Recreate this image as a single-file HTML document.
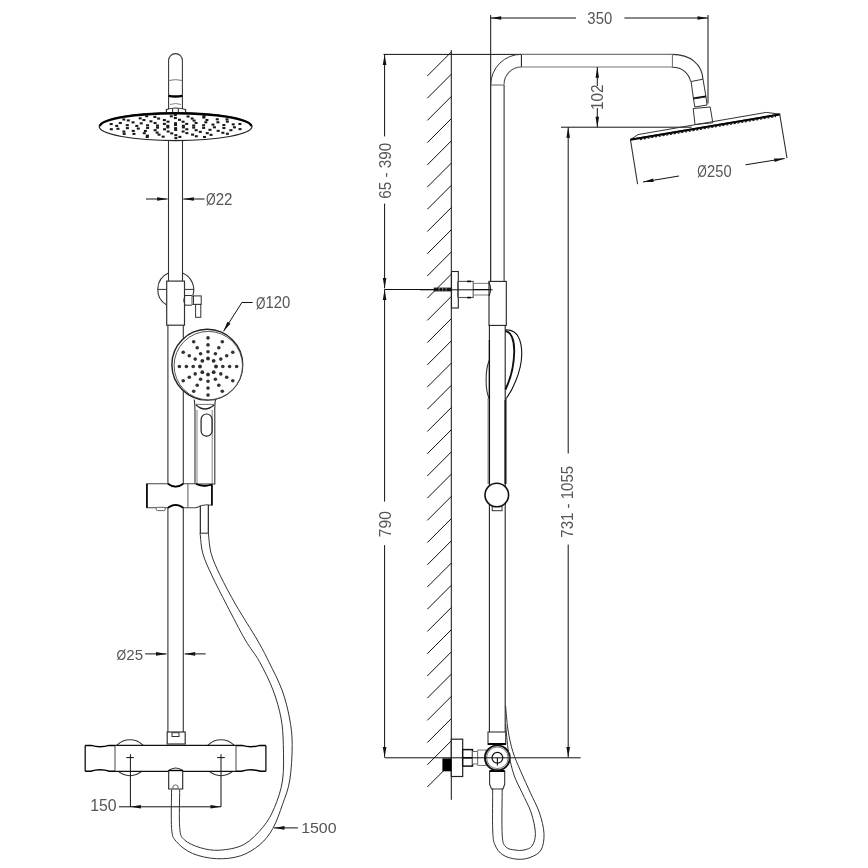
<!DOCTYPE html>
<html><head><meta charset="utf-8"><style>
html,body{margin:0;padding:0;background:#fff;width:868px;height:868px;overflow:hidden}
svg{display:block;filter:grayscale(1)}
text{font-family:"Liberation Sans",sans-serif}
</style></head><body>
<svg width="868" height="868" viewBox="0 0 868 868">
<rect width="868" height="868" fill="#fff"/>
<path d="M168.6,109 L168.6,60.5 A6.9,6.9 0 0 1 182.4,60.5 L182.4,109" stroke="#333" stroke-width="1.05" fill="none"/>
<path d="M168.6,80.5 Q175.5,78.8 182.4,80.5" stroke="#777" stroke-width="1" fill="none"/>
<path d="M168.6,95.8 Q175.5,97.2 182.4,95.8" stroke="#000" stroke-width="2.3" fill="none"/>
<path d="M170,104.5 Q175.5,102.5 181,104.5" stroke="#888" stroke-width="1" fill="none"/>
<path d="M166.4,113 L166.4,109.5 Q175.5,106.5 185.6,109.5 L185.6,113" stroke="#222" stroke-width="1.1" fill="none"/>
<line x1="172.60" y1="108.50" x2="172.60" y2="113.00" stroke="#222" stroke-width="1"/>
<line x1="178.30" y1="108.50" x2="178.30" y2="113.00" stroke="#222" stroke-width="1"/>
<ellipse cx="175.6" cy="126.6" rx="76.4" ry="14" fill="#fff" stroke="#222" stroke-width="1.2"/>
<path d="M99.8,126.2 A75.9,13.6 0 0 1 251.4,126.2" stroke="#000" stroke-width="2.2" fill="none"/>
<rect x="181.91" y="126.33" width="3" height="2.1" fill="#1a1a1a"/>
<rect x="174.13" y="127.12" width="3" height="2.1" fill="#1a1a1a"/>
<rect x="166.32" y="126.34" width="3" height="2.1" fill="#1a1a1a"/>
<rect x="166.29" y="124.77" width="3" height="2.1" fill="#1a1a1a"/>
<rect x="174.07" y="123.98" width="3" height="2.1" fill="#1a1a1a"/>
<rect x="181.88" y="124.76" width="3" height="2.1" fill="#1a1a1a"/>
<rect x="192.19" y="126.56" width="3" height="2.1" fill="#1a1a1a"/>
<rect x="185.33" y="128.23" width="3" height="2.1" fill="#1a1a1a"/>
<rect x="174.18" y="128.87" width="3" height="2.1" fill="#1a1a1a"/>
<rect x="163.00" y="128.25" width="3" height="2.1" fill="#1a1a1a"/>
<rect x="156.05" y="126.59" width="3" height="2.1" fill="#1a1a1a"/>
<rect x="156.01" y="124.54" width="3" height="2.1" fill="#1a1a1a"/>
<rect x="162.87" y="122.87" width="3" height="2.1" fill="#1a1a1a"/>
<rect x="174.02" y="122.23" width="3" height="2.1" fill="#1a1a1a"/>
<rect x="185.20" y="122.85" width="3" height="2.1" fill="#1a1a1a"/>
<rect x="192.15" y="124.51" width="3" height="2.1" fill="#1a1a1a"/>
<rect x="202.13" y="126.85" width="3" height="2.1" fill="#1a1a1a"/>
<rect x="194.64" y="129.13" width="3" height="2.1" fill="#1a1a1a"/>
<rect x="181.66" y="130.45" width="3" height="2.1" fill="#1a1a1a"/>
<rect x="166.64" y="130.45" width="3" height="2.1" fill="#1a1a1a"/>
<rect x="153.63" y="129.15" width="3" height="2.1" fill="#1a1a1a"/>
<rect x="146.10" y="126.87" width="3" height="2.1" fill="#1a1a1a"/>
<rect x="146.07" y="124.25" width="3" height="2.1" fill="#1a1a1a"/>
<rect x="153.56" y="121.97" width="3" height="2.1" fill="#1a1a1a"/>
<rect x="166.54" y="120.65" width="3" height="2.1" fill="#1a1a1a"/>
<rect x="181.56" y="120.65" width="3" height="2.1" fill="#1a1a1a"/>
<rect x="194.57" y="121.95" width="3" height="2.1" fill="#1a1a1a"/>
<rect x="202.10" y="124.23" width="3" height="2.1" fill="#1a1a1a"/>
<rect x="212.91" y="126.23" width="3" height="2.1" fill="#1a1a1a"/>
<rect x="208.46" y="128.78" width="3" height="2.1" fill="#1a1a1a"/>
<rect x="198.79" y="130.83" width="3" height="2.1" fill="#1a1a1a"/>
<rect x="185.35" y="132.08" width="3" height="2.1" fill="#1a1a1a"/>
<rect x="170.21" y="132.34" width="3" height="2.1" fill="#1a1a1a"/>
<rect x="155.65" y="131.56" width="3" height="2.1" fill="#1a1a1a"/>
<rect x="143.91" y="129.87" width="3" height="2.1" fill="#1a1a1a"/>
<rect x="136.76" y="127.52" width="3" height="2.1" fill="#1a1a1a"/>
<rect x="135.29" y="124.87" width="3" height="2.1" fill="#1a1a1a"/>
<rect x="139.74" y="122.32" width="3" height="2.1" fill="#1a1a1a"/>
<rect x="149.41" y="120.27" width="3" height="2.1" fill="#1a1a1a"/>
<rect x="162.85" y="119.02" width="3" height="2.1" fill="#1a1a1a"/>
<rect x="177.99" y="118.76" width="3" height="2.1" fill="#1a1a1a"/>
<rect x="192.55" y="119.54" width="3" height="2.1" fill="#1a1a1a"/>
<rect x="204.29" y="121.23" width="3" height="2.1" fill="#1a1a1a"/>
<rect x="211.44" y="123.58" width="3" height="2.1" fill="#1a1a1a"/>
<rect x="222.39" y="127.00" width="3" height="2.1" fill="#1a1a1a"/>
<rect x="216.65" y="129.80" width="3" height="2.1" fill="#1a1a1a"/>
<rect x="205.77" y="132.09" width="3" height="2.1" fill="#1a1a1a"/>
<rect x="191.07" y="133.59" width="3" height="2.1" fill="#1a1a1a"/>
<rect x="174.32" y="134.12" width="3" height="2.1" fill="#1a1a1a"/>
<rect x="157.55" y="133.62" width="3" height="2.1" fill="#1a1a1a"/>
<rect x="142.77" y="132.14" width="3" height="2.1" fill="#1a1a1a"/>
<rect x="131.78" y="129.87" width="3" height="2.1" fill="#1a1a1a"/>
<rect x="125.88" y="127.08" width="3" height="2.1" fill="#1a1a1a"/>
<rect x="125.81" y="124.10" width="3" height="2.1" fill="#1a1a1a"/>
<rect x="131.55" y="121.30" width="3" height="2.1" fill="#1a1a1a"/>
<rect x="142.43" y="119.01" width="3" height="2.1" fill="#1a1a1a"/>
<rect x="157.13" y="117.51" width="3" height="2.1" fill="#1a1a1a"/>
<rect x="173.88" y="116.98" width="3" height="2.1" fill="#1a1a1a"/>
<rect x="190.65" y="117.48" width="3" height="2.1" fill="#1a1a1a"/>
<rect x="205.43" y="118.96" width="3" height="2.1" fill="#1a1a1a"/>
<rect x="216.42" y="121.23" width="3" height="2.1" fill="#1a1a1a"/>
<rect x="222.32" y="124.02" width="3" height="2.1" fill="#1a1a1a"/>
<rect x="232.96" y="126.27" width="3" height="2.1" fill="#1a1a1a"/>
<rect x="229.41" y="129.14" width="3" height="2.1" fill="#1a1a1a"/>
<rect x="221.38" y="131.73" width="3" height="2.1" fill="#1a1a1a"/>
<rect x="209.52" y="133.81" width="3" height="2.1" fill="#1a1a1a"/>
<rect x="194.80" y="135.22" width="3" height="2.1" fill="#1a1a1a"/>
<rect x="178.39" y="135.85" width="3" height="2.1" fill="#1a1a1a"/>
<rect x="161.64" y="135.64" width="3" height="2.1" fill="#1a1a1a"/>
<rect x="145.90" y="134.62" width="3" height="2.1" fill="#1a1a1a"/>
<rect x="132.44" y="132.86" width="3" height="2.1" fill="#1a1a1a"/>
<rect x="122.36" y="130.51" width="3" height="2.1" fill="#1a1a1a"/>
<rect x="116.47" y="127.76" width="3" height="2.1" fill="#1a1a1a"/>
<rect x="115.24" y="124.83" width="3" height="2.1" fill="#1a1a1a"/>
<rect x="118.79" y="121.96" width="3" height="2.1" fill="#1a1a1a"/>
<rect x="126.82" y="119.37" width="3" height="2.1" fill="#1a1a1a"/>
<rect x="138.68" y="117.29" width="3" height="2.1" fill="#1a1a1a"/>
<rect x="153.40" y="115.88" width="3" height="2.1" fill="#1a1a1a"/>
<rect x="169.81" y="115.25" width="3" height="2.1" fill="#1a1a1a"/>
<rect x="186.56" y="115.46" width="3" height="2.1" fill="#1a1a1a"/>
<rect x="202.30" y="116.48" width="3" height="2.1" fill="#1a1a1a"/>
<rect x="215.76" y="118.24" width="3" height="2.1" fill="#1a1a1a"/>
<rect x="225.84" y="120.59" width="3" height="2.1" fill="#1a1a1a"/>
<rect x="231.73" y="123.34" width="3" height="2.1" fill="#1a1a1a"/>
<rect x="238.51" y="128.07" width="3" height="2.1" fill="#1a1a1a"/>
<rect x="225.88" y="132.71" width="3" height="2.1" fill="#1a1a1a"/>
<rect x="203.00" y="135.93" width="3" height="2.1" fill="#1a1a1a"/>
<rect x="174.39" y="137.10" width="3" height="2.1" fill="#1a1a1a"/>
<rect x="145.73" y="135.98" width="3" height="2.1" fill="#1a1a1a"/>
<rect x="122.68" y="132.79" width="3" height="2.1" fill="#1a1a1a"/>
<rect x="109.82" y="128.17" width="3" height="2.1" fill="#1a1a1a"/>
<rect x="109.69" y="123.03" width="3" height="2.1" fill="#1a1a1a"/>
<rect x="122.32" y="118.39" width="3" height="2.1" fill="#1a1a1a"/>
<rect x="145.20" y="115.17" width="3" height="2.1" fill="#1a1a1a"/>
<rect x="173.81" y="114.00" width="3" height="2.1" fill="#1a1a1a"/>
<rect x="202.47" y="115.12" width="3" height="2.1" fill="#1a1a1a"/>
<rect x="225.52" y="118.31" width="3" height="2.1" fill="#1a1a1a"/>
<rect x="238.38" y="122.93" width="3" height="2.1" fill="#1a1a1a"/>
<line x1="168.50" y1="141.00" x2="168.50" y2="281.00" stroke="#333" stroke-width="1.1"/>
<line x1="182.50" y1="141.00" x2="182.50" y2="281.00" stroke="#333" stroke-width="1.1"/>
<line x1="146.00" y1="199.00" x2="167.60" y2="199.00" stroke="#111" stroke-width="1"/>
<path d="M167.60,199.00 L157.10,200.80 L157.10,197.20 Z" fill="#111"/>
<line x1="183.30" y1="199.00" x2="204.50" y2="199.00" stroke="#111" stroke-width="1"/>
<path d="M183.30,199.00 L193.80,197.20 L193.80,200.80 Z" fill="#111"/>
<text transform="matrix(0.1242,0.0000,0.0000,0.1640,205.9531,204.5580)" font-size="100" fill="#555" opacity="0.995">Ø</text>
<text transform="matrix(0.1508,0.0000,0.0000,0.1686,215.7192,204.6500)" font-size="100" fill="#555" opacity="0.995">22</text>
<path d="M168.5,273 A18,18 0 0 0 166.7,305" stroke="#333" stroke-width="1.1" fill="none"/>
<path d="M182.5,273 A18,18 0 0 1 192.8,295.5" stroke="#333" stroke-width="1.1" fill="none"/>
<line x1="157.70" y1="289.40" x2="166.70" y2="289.40" stroke="#333" stroke-width="1"/>
<line x1="184.50" y1="289.40" x2="193.80" y2="289.40" stroke="#333" stroke-width="1"/>
<rect x="166.70" y="281.10" width="17.80" height="44.10" stroke="#333" stroke-width="1.2" fill="#fff"/>
<path d="M191.9,295.5 L185,295.5 Q182.3,300.3 185,305.2 L191.9,305.2" stroke="#333" stroke-width="1" fill="none"/>
<rect x="192.00" y="296.00" width="1.50" height="8.50" stroke="#333" stroke-width="0.8" fill="#fff"/>
<rect x="193.50" y="295.90" width="7.70" height="8.50" stroke="#333" stroke-width="1" fill="#fff"/>
<rect x="195.60" y="304.40" width="5.20" height="12.90" stroke="#333" stroke-width="1" fill="#fff"/>
<line x1="167.90" y1="325.00" x2="167.90" y2="484.00" stroke="#333" stroke-width="1.1"/>
<line x1="183.30" y1="325.00" x2="183.30" y2="484.00" stroke="#333" stroke-width="1.1"/>
<line x1="167.90" y1="508.00" x2="167.90" y2="732.00" stroke="#333" stroke-width="1.1"/>
<line x1="183.30" y1="508.00" x2="183.30" y2="732.00" stroke="#333" stroke-width="1.1"/>
<circle cx="207.3" cy="364.7" r="35.4" fill="#fff" stroke="#222" stroke-width="1.4"/>
<circle cx="208.3" cy="365.6" r="34.2" fill="#fff" stroke="#444" stroke-width="0.9"/>
<path d="M194.2,399.6 C195,404 195,408 195,414 L195,484 L214.8,484 L214.8,414 C214.8,408 214.6,404 215.5,399.6" stroke="#333" stroke-width="1.1" fill="none"/>
<line x1="197.00" y1="410.00" x2="197.00" y2="484.00" stroke="#777" stroke-width="0.9"/>
<line x1="212.20" y1="410.00" x2="212.20" y2="484.00" stroke="#777" stroke-width="0.9"/>
<path d="M195.5,404.4 L214.5,404.4" stroke="#666" stroke-width="0.9" fill="none"/>
<path d="M196,405 Q205,413 214,405" stroke="#222" stroke-width="1.2" fill="none"/>
<rect x="201.1" y="414" width="11" height="22.2" rx="5.5" fill="none" stroke="#222" stroke-width="1.2"/>
<circle cx="216.00" cy="366.50" r="1.90" stroke="none" stroke-width="0" fill="#2a2a2a"/>
<circle cx="213.66" cy="372.16" r="1.90" stroke="none" stroke-width="0" fill="#2a2a2a"/>
<circle cx="208.00" cy="374.50" r="1.90" stroke="none" stroke-width="0" fill="#2a2a2a"/>
<circle cx="202.34" cy="372.16" r="1.90" stroke="none" stroke-width="0" fill="#2a2a2a"/>
<circle cx="200.00" cy="366.50" r="1.90" stroke="none" stroke-width="0" fill="#2a2a2a"/>
<circle cx="202.34" cy="360.84" r="1.90" stroke="none" stroke-width="0" fill="#2a2a2a"/>
<circle cx="208.00" cy="358.50" r="1.90" stroke="none" stroke-width="0" fill="#2a2a2a"/>
<circle cx="213.66" cy="360.84" r="1.90" stroke="none" stroke-width="0" fill="#2a2a2a"/>
<circle cx="222.80" cy="366.50" r="1.80" stroke="none" stroke-width="0" fill="#333"/>
<circle cx="229.60" cy="366.50" r="1.80" stroke="none" stroke-width="0" fill="#333"/>
<circle cx="236.60" cy="366.50" r="1.80" stroke="none" stroke-width="0" fill="#333"/>
<circle cx="220.82" cy="373.90" r="1.80" stroke="none" stroke-width="0" fill="#333"/>
<circle cx="226.71" cy="377.30" r="1.80" stroke="none" stroke-width="0" fill="#333"/>
<circle cx="232.77" cy="380.80" r="1.80" stroke="none" stroke-width="0" fill="#333"/>
<circle cx="215.40" cy="379.32" r="1.80" stroke="none" stroke-width="0" fill="#333"/>
<circle cx="218.80" cy="385.21" r="1.80" stroke="none" stroke-width="0" fill="#333"/>
<circle cx="222.30" cy="391.27" r="1.80" stroke="none" stroke-width="0" fill="#333"/>
<circle cx="208.00" cy="381.30" r="1.80" stroke="none" stroke-width="0" fill="#333"/>
<circle cx="208.00" cy="388.10" r="1.80" stroke="none" stroke-width="0" fill="#333"/>
<circle cx="208.00" cy="395.10" r="1.80" stroke="none" stroke-width="0" fill="#333"/>
<circle cx="200.60" cy="379.32" r="1.80" stroke="none" stroke-width="0" fill="#333"/>
<circle cx="197.20" cy="385.21" r="1.80" stroke="none" stroke-width="0" fill="#333"/>
<circle cx="193.70" cy="391.27" r="1.80" stroke="none" stroke-width="0" fill="#333"/>
<circle cx="195.18" cy="373.90" r="1.80" stroke="none" stroke-width="0" fill="#333"/>
<circle cx="189.29" cy="377.30" r="1.80" stroke="none" stroke-width="0" fill="#333"/>
<circle cx="183.23" cy="380.80" r="1.80" stroke="none" stroke-width="0" fill="#333"/>
<circle cx="193.20" cy="366.50" r="1.80" stroke="none" stroke-width="0" fill="#333"/>
<circle cx="186.40" cy="366.50" r="1.80" stroke="none" stroke-width="0" fill="#333"/>
<circle cx="179.40" cy="366.50" r="1.80" stroke="none" stroke-width="0" fill="#333"/>
<circle cx="195.18" cy="359.10" r="1.80" stroke="none" stroke-width="0" fill="#333"/>
<circle cx="189.29" cy="355.70" r="1.80" stroke="none" stroke-width="0" fill="#333"/>
<circle cx="183.23" cy="352.20" r="1.80" stroke="none" stroke-width="0" fill="#333"/>
<circle cx="200.60" cy="353.68" r="1.80" stroke="none" stroke-width="0" fill="#333"/>
<circle cx="197.20" cy="347.79" r="1.80" stroke="none" stroke-width="0" fill="#333"/>
<circle cx="193.70" cy="341.73" r="1.80" stroke="none" stroke-width="0" fill="#333"/>
<circle cx="208.00" cy="351.70" r="1.80" stroke="none" stroke-width="0" fill="#333"/>
<circle cx="208.00" cy="344.90" r="1.80" stroke="none" stroke-width="0" fill="#333"/>
<circle cx="208.00" cy="337.90" r="1.80" stroke="none" stroke-width="0" fill="#333"/>
<circle cx="215.40" cy="353.68" r="1.80" stroke="none" stroke-width="0" fill="#333"/>
<circle cx="218.80" cy="347.79" r="1.80" stroke="none" stroke-width="0" fill="#333"/>
<circle cx="222.30" cy="341.73" r="1.80" stroke="none" stroke-width="0" fill="#333"/>
<circle cx="220.82" cy="359.10" r="1.80" stroke="none" stroke-width="0" fill="#333"/>
<circle cx="226.71" cy="355.70" r="1.80" stroke="none" stroke-width="0" fill="#333"/>
<circle cx="232.77" cy="352.20" r="1.80" stroke="none" stroke-width="0" fill="#333"/>
<path d="M223.6,331.2 L241.9,302.5 L252.7,302.5" stroke="#111" stroke-width="1" fill="none"/>
<path d="M223.30,331.60 L227.44,321.78 L230.47,323.72 Z" fill="#111"/>
<text transform="matrix(0.1213,0.0000,0.0000,0.1640,255.9646,308.5580)" font-size="100" fill="#555" opacity="0.995">Ø</text>
<text transform="matrix(0.1488,0.0000,0.0000,0.1662,265.3932,308.4838)" font-size="100" fill="#555" opacity="0.995">120</text>
<path d="M146.9,483.8 L167.9,483.8 Q175.6,489.6 183.3,483.8 L196,483.8 Q204,487.5 211.9,484.5 L211.9,505.3 Q204,503.5 196,507.8 L183.3,507.8 Q175.6,502 167.9,507.8 L146.9,507.8 Z" stroke="#444" stroke-width="1.1" fill="#fff"/>
<path d="M167.9,483.8 Q175.6,489.6 183.3,483.8 M167.9,507.8 Q175.6,502 183.3,507.8 M196,484 Q204,487.5 211.9,484.5" stroke="#000" stroke-width="1.7" fill="none"/>
<path d="M146.9,483.8 L146.9,507.8 M211.9,484.5 L211.9,505.3" stroke="#000" stroke-width="1.6" fill="none"/>
<line x1="187.90" y1="484.00" x2="187.90" y2="507.80" stroke="#666" stroke-width="1.1"/>
<rect x="156.1" y="507.3" width="9.2" height="3.3" rx="1.5" fill="#fff" stroke="#555" stroke-width="0.9"/>
<line x1="145.20" y1="653.90" x2="166.50" y2="653.90" stroke="#111" stroke-width="1"/>
<path d="M166.50,653.90 L156.00,655.70 L156.00,652.10 Z" fill="#111"/>
<line x1="184.70" y1="653.90" x2="205.60" y2="653.90" stroke="#111" stroke-width="1"/>
<path d="M184.70,653.90 L195.20,652.10 L195.20,655.70 Z" fill="#111"/>
<text transform="matrix(0.1247,0.0000,0.0000,0.1533,116.5511,660.0900)" font-size="100" fill="#555" opacity="0.995">Ø</text>
<text transform="matrix(0.1514,0.0000,0.0000,0.1549,126.3552,659.9951)" font-size="100" fill="#555" opacity="0.995">25</text>
<rect x="167.20" y="732.00" width="18.00" height="12.00" stroke="#333" stroke-width="1.2" fill="#fff"/>
<rect x="172.00" y="732.70" width="7.00" height="3.80" stroke="#333" stroke-width="1" fill="#fff"/>
<circle cx="130.00" cy="757.70" r="18.00" stroke="#333" stroke-width="1.1" fill="#fff"/>
<circle cx="221.00" cy="757.70" r="18.00" stroke="#333" stroke-width="1.1" fill="#fff"/>
<rect x="85.20" y="745.40" width="180.70" height="25.90" stroke="#fff" stroke-width="0" fill="#fff"/>
<path d="M115,745.4 L236,745.4 M115,771.3 L236,771.3" stroke="#111" stroke-width="1.2" fill="none"/>
<path d="M85.2,745.4 L85.2,771.3 M265.9,745.4 L265.9,771.3" stroke="#111" stroke-width="1.3" fill="none"/>
<line x1="115.00" y1="745.40" x2="115.00" y2="771.30" stroke="#666" stroke-width="1.2"/>
<line x1="236.00" y1="745.40" x2="236.00" y2="771.30" stroke="#666" stroke-width="1.2"/>
<path d="M85.2,745.4 L91.16,745.4 Q100.10,748.2 109.04,745.4 L115,745.4" stroke="#000" stroke-width="1.5" fill="none"/>
<path d="M85.2,771.3 L90.56,771.3 Q100.10,768.3 109.64,771.3 L115,771.3" stroke="#000" stroke-width="1.5" fill="none"/>
<path d="M236,745.4 L241.98,745.4 Q250.95,748.2 259.92,745.4 L265.9,745.4" stroke="#000" stroke-width="1.5" fill="none"/>
<path d="M236,771.3 L241.38,771.3 Q250.95,768.3 260.52,771.3 L265.9,771.3" stroke="#000" stroke-width="1.5" fill="none"/>
<line x1="126.30" y1="757.60" x2="133.90" y2="757.60" stroke="#111" stroke-width="1"/>
<line x1="217.20" y1="757.60" x2="224.80" y2="757.60" stroke="#111" stroke-width="1"/>
<line x1="130.40" y1="754.20" x2="130.40" y2="807.00" stroke="#111" stroke-width="1"/>
<line x1="221.00" y1="754.20" x2="221.00" y2="807.00" stroke="#111" stroke-width="1"/>
<path d="M168.7,789 L168.7,770.5 Q175.7,765.5 182.7,770.5 L182.7,789 Z" stroke="#222" stroke-width="1.1" fill="#fff"/>
<line x1="168.70" y1="770.50" x2="182.70" y2="770.50" stroke="#000" stroke-width="1.4"/>
<path d="M173,789 L173,786 Q175.5,783.5 178,786 L178,789" stroke="#555" stroke-width="0.9" fill="none"/>
<line x1="119.00" y1="806.80" x2="221.00" y2="806.80" stroke="#111" stroke-width="1"/>
<path d="M130.40,806.80 L140.90,805.00 L140.90,808.60 Z" fill="#111"/>
<path d="M221.00,806.80 L210.50,808.60 L210.50,805.00 Z" fill="#111"/>
<text transform="matrix(0.1581,0.0000,0.0000,0.1620,90.1855,811.2880)" font-size="100" fill="#555" opacity="0.995">150</text>
<path d="M200.10,533.40 C200.57,536.78 200.90,546.62 202.90,553.70 C204.90,560.78 208.10,567.30 212.10,575.90 C216.10,584.50 221.37,594.62 226.90,605.30 C232.43,615.98 239.88,630.63 245.30,640.00 C250.72,649.37 254.78,653.17 259.40,661.50 C264.02,669.83 269.40,680.58 273.00,690.00 C276.60,699.42 279.28,708.93 281.00,718.00 C282.72,727.07 283.03,734.07 283.30,744.40 C283.57,754.73 284.07,769.50 282.60,780.00 C281.13,790.50 277.73,799.60 274.50,807.40 C271.27,815.20 268.30,820.62 263.20,826.80 C258.10,832.98 251.15,840.60 243.90,844.50 C236.65,848.40 226.97,849.67 219.70,850.20 C212.43,850.73 206.22,849.45 200.30,847.70 C194.38,845.95 187.63,843.05 184.20,839.70 C180.77,836.35 180.45,835.97 179.70,827.60 C178.95,819.23 179.70,795.85 179.70,789.50" stroke="#333" stroke-width="1" fill="none"/>
<path d="M208.40,533.40 C208.87,536.78 209.20,546.62 211.20,553.70 C213.20,560.78 216.25,567.30 220.40,575.90 C224.55,584.50 229.95,594.62 236.10,605.30 C242.25,615.98 251.87,630.63 257.30,640.00 C262.73,649.37 264.58,653.17 268.70,661.50 C272.82,669.83 278.53,680.58 282.00,690.00 C285.47,699.42 287.80,708.93 289.50,718.00 C291.20,727.07 292.15,734.07 292.20,744.40 C292.25,754.73 291.40,770.03 289.80,780.00 C288.20,789.97 285.42,796.13 282.60,804.20 C279.78,812.27 276.67,821.68 272.90,828.40 C269.13,835.12 265.38,839.93 260.00,844.50 C254.62,849.07 247.85,853.43 240.60,855.80 C233.35,858.17 224.55,859.10 216.50,858.70 C208.45,858.30 199.03,856.30 192.30,853.40 C185.57,850.50 179.55,845.47 176.10,841.30 C172.65,837.13 172.35,837.03 171.60,828.40 C170.85,819.77 171.60,795.98 171.60,789.50" stroke="#333" stroke-width="1" fill="none"/>
<path d="M200.3,506 L200.3,533.4 L208.3,533.4 L208.3,505" stroke="#111" stroke-width="1.1" fill="none"/>
<line x1="200.30" y1="533.40" x2="208.30" y2="533.40" stroke="#777" stroke-width="1"/>
<line x1="274.00" y1="827.90" x2="297.90" y2="827.90" stroke="#111" stroke-width="1"/>
<path d="M274.00,827.90 L284.50,826.10 L284.50,829.70 Z" fill="#111"/>
<text transform="matrix(0.1592,0.0000,0.0000,0.1549,301.1761,832.9951)" font-size="100" fill="#555" opacity="0.995">1500</text>
<line x1="451.30" y1="50.00" x2="451.30" y2="799.80" stroke="#111" stroke-width="1"/>
<line x1="427.30" y1="76.00" x2="451.30" y2="52.00" stroke="#111" stroke-width="1"/>
<line x1="427.30" y1="98.22" x2="451.30" y2="74.22" stroke="#111" stroke-width="1"/>
<line x1="427.30" y1="120.44" x2="451.30" y2="96.44" stroke="#111" stroke-width="1"/>
<line x1="427.30" y1="142.66" x2="451.30" y2="118.66" stroke="#111" stroke-width="1"/>
<line x1="427.30" y1="164.88" x2="451.30" y2="140.88" stroke="#111" stroke-width="1"/>
<line x1="427.30" y1="187.10" x2="451.30" y2="163.10" stroke="#111" stroke-width="1"/>
<line x1="427.30" y1="209.32" x2="451.30" y2="185.32" stroke="#111" stroke-width="1"/>
<line x1="427.30" y1="231.54" x2="451.30" y2="207.54" stroke="#111" stroke-width="1"/>
<line x1="427.30" y1="253.76" x2="451.30" y2="229.76" stroke="#111" stroke-width="1"/>
<line x1="427.30" y1="275.98" x2="451.30" y2="251.98" stroke="#111" stroke-width="1"/>
<line x1="427.30" y1="298.20" x2="451.30" y2="274.20" stroke="#111" stroke-width="1"/>
<line x1="427.30" y1="320.42" x2="451.30" y2="296.42" stroke="#111" stroke-width="1"/>
<line x1="427.30" y1="342.64" x2="451.30" y2="318.64" stroke="#111" stroke-width="1"/>
<line x1="427.30" y1="364.86" x2="451.30" y2="340.86" stroke="#111" stroke-width="1"/>
<line x1="427.30" y1="387.08" x2="451.30" y2="363.08" stroke="#111" stroke-width="1"/>
<line x1="427.30" y1="409.30" x2="451.30" y2="385.30" stroke="#111" stroke-width="1"/>
<line x1="427.30" y1="431.52" x2="451.30" y2="407.52" stroke="#111" stroke-width="1"/>
<line x1="427.30" y1="453.74" x2="451.30" y2="429.74" stroke="#111" stroke-width="1"/>
<line x1="427.30" y1="475.96" x2="451.30" y2="451.96" stroke="#111" stroke-width="1"/>
<line x1="427.30" y1="498.18" x2="451.30" y2="474.18" stroke="#111" stroke-width="1"/>
<line x1="427.30" y1="520.40" x2="451.30" y2="496.40" stroke="#111" stroke-width="1"/>
<line x1="427.30" y1="542.62" x2="451.30" y2="518.62" stroke="#111" stroke-width="1"/>
<line x1="427.30" y1="564.84" x2="451.30" y2="540.84" stroke="#111" stroke-width="1"/>
<line x1="427.30" y1="587.06" x2="451.30" y2="563.06" stroke="#111" stroke-width="1"/>
<line x1="427.30" y1="609.28" x2="451.30" y2="585.28" stroke="#111" stroke-width="1"/>
<line x1="427.30" y1="631.50" x2="451.30" y2="607.50" stroke="#111" stroke-width="1"/>
<line x1="427.30" y1="653.72" x2="451.30" y2="629.72" stroke="#111" stroke-width="1"/>
<line x1="427.30" y1="675.94" x2="451.30" y2="651.94" stroke="#111" stroke-width="1"/>
<line x1="427.30" y1="698.16" x2="451.30" y2="674.16" stroke="#111" stroke-width="1"/>
<line x1="427.30" y1="720.38" x2="451.30" y2="696.38" stroke="#111" stroke-width="1"/>
<line x1="427.30" y1="742.60" x2="451.30" y2="718.60" stroke="#111" stroke-width="1"/>
<line x1="427.30" y1="764.82" x2="451.30" y2="740.82" stroke="#111" stroke-width="1"/>
<line x1="427.30" y1="787.04" x2="451.30" y2="763.04" stroke="#111" stroke-width="1"/>
<line x1="383.50" y1="54.40" x2="521.40" y2="54.40" stroke="#111" stroke-width="1"/>
<line x1="384.60" y1="54.40" x2="384.60" y2="136.40" stroke="#111" stroke-width="1"/>
<line x1="384.60" y1="203.60" x2="384.60" y2="288.40" stroke="#111" stroke-width="1"/>
<path d="M384.60,54.40 L386.40,64.90 L382.80,64.90 Z" fill="#111"/>
<path d="M384.60,288.40 L382.80,277.90 L386.40,277.90 Z" fill="#111"/>
<text transform="matrix(0.0000,-0.1522,0.1648,0.0000,390.7852,198.7112)" font-size="100" fill="#555" opacity="0.995">65 - 390</text>
<line x1="384.60" y1="289.50" x2="493.40" y2="289.50" stroke="#111" stroke-width="1"/>
<line x1="384.60" y1="289.50" x2="384.60" y2="501.60" stroke="#111" stroke-width="1"/>
<line x1="384.60" y1="545.10" x2="384.60" y2="757.40" stroke="#111" stroke-width="1"/>
<path d="M384.60,289.50 L386.40,300.00 L382.80,300.00 Z" fill="#111"/>
<path d="M384.60,757.40 L382.80,746.90 L386.40,746.90 Z" fill="#111"/>
<text transform="matrix(0.0000,-0.1557,0.1704,0.0000,390.7796,537.1285)" font-size="100" fill="#555" opacity="0.995">790</text>
<line x1="490.70" y1="18.00" x2="576.00" y2="18.00" stroke="#111" stroke-width="1"/>
<line x1="624.40" y1="18.00" x2="708.00" y2="18.00" stroke="#111" stroke-width="1"/>
<path d="M490.70,18.00 L501.20,16.20 L501.20,19.80 Z" fill="#111"/>
<path d="M708.00,18.00 L697.50,19.80 L697.50,16.20 Z" fill="#111"/>
<text transform="matrix(0.1491,0.0000,0.0000,0.1592,587.3538,23.8908)" font-size="100" fill="#555" opacity="0.995">350</text>
<line x1="490.70" y1="15.00" x2="490.70" y2="85.00" stroke="#111" stroke-width="1"/>
<line x1="708.00" y1="15.00" x2="708.00" y2="103.50" stroke="#111" stroke-width="1"/>
<path d="M490.7,85 A30.7,30.7 0 0 1 521.4,54.3" stroke="#333" stroke-width="1" fill="none"/>
<path d="M504.1,84.4 A17.3,17.3 0 0 1 521.4,67" stroke="#555" stroke-width="1.1" fill="none"/>
<line x1="521.40" y1="54.40" x2="521.40" y2="67.00" stroke="#111" stroke-width="1"/>
<line x1="490.70" y1="85.00" x2="504.10" y2="85.00" stroke="#777" stroke-width="1.2"/>
<line x1="521.40" y1="54.40" x2="672.40" y2="54.40" stroke="#777" stroke-width="1.2"/>
<line x1="521.40" y1="67.00" x2="672.40" y2="67.00" stroke="#777" stroke-width="1.2"/>
<line x1="504.10" y1="85.00" x2="504.10" y2="281.00" stroke="#333" stroke-width="1.1"/>
<line x1="490.70" y1="85.00" x2="490.70" y2="281.00" stroke="#111" stroke-width="1.1"/>
<rect x="451.50" y="271.50" width="6.80" height="36.50" stroke="#222" stroke-width="1.1" fill="#fff"/>
<line x1="458.30" y1="281.40" x2="458.30" y2="297.50" stroke="#000" stroke-width="1.6"/>
<rect x="458.30" y="281.40" width="14.90" height="16.10" stroke="#555" stroke-width="1.1" fill="#fff"/>
<rect x="467.20" y="280.60" width="3.60" height="1.60" stroke="#000" stroke-width="0" fill="#000"/>
<rect x="467.20" y="296.80" width="3.60" height="1.60" stroke="#000" stroke-width="0" fill="#000"/>
<line x1="473.20" y1="283.40" x2="489.00" y2="283.40" stroke="#888" stroke-width="1.1"/>
<line x1="473.20" y1="295.00" x2="489.00" y2="295.00" stroke="#888" stroke-width="1.1"/>
<rect x="433.70" y="287.60" width="17.80" height="3.80" stroke="#000" stroke-width="0" fill="#1a1a1a"/>
<rect x="438.50" y="288.30" width="1.20" height="2.40" stroke="#000" stroke-width="0" fill="#bbb"/>
<rect x="442.00" y="288.30" width="1.20" height="2.40" stroke="#000" stroke-width="0" fill="#bbb"/>
<rect x="445.50" y="288.30" width="1.20" height="2.40" stroke="#000" stroke-width="0" fill="#bbb"/>
<rect x="489.00" y="281.40" width="17.30" height="44.00" stroke="#222" stroke-width="1.1" fill="#fff"/>
<path d="M489,282 Q492,289.5 489,296" stroke="#222" stroke-width="1.1" fill="none"/>
<line x1="420.00" y1="289.80" x2="492.60" y2="289.80" stroke="#111" stroke-width="1"/>
<line x1="489.40" y1="325.30" x2="489.40" y2="732.50" stroke="#222" stroke-width="1.1"/>
<line x1="505.20" y1="325.30" x2="505.20" y2="732.50" stroke="#222" stroke-width="1.1"/>
<path d="M505.5,329.8 C518,329.3 522,341 521.7,355 C521.4,372 512,391 505.5,399.5" stroke="#111" stroke-width="1.1" fill="none"/>
<path d="M505.5,331 C511,331.5 514.5,340 514.2,352 C514,365 510,380 505.5,389.5" stroke="#111" stroke-width="1.9" fill="none"/>
<path d="M489.4,360 C485,370 485,390 489.4,399" stroke="#333" stroke-width="1.1" fill="none"/>
<line x1="488.00" y1="398.00" x2="488.00" y2="484.00" stroke="#777" stroke-width="0.9"/>
<line x1="506.50" y1="398.00" x2="506.50" y2="484.00" stroke="#777" stroke-width="0.9"/>
<line x1="489.40" y1="340.00" x2="489.40" y2="484.00" stroke="#111" stroke-width="1.3"/>
<line x1="505.20" y1="400.00" x2="505.20" y2="484.00" stroke="#111" stroke-width="1.3"/>
<rect x="492.20" y="504.00" width="9.80" height="6.70" stroke="#333" stroke-width="1" fill="#fff"/>
<circle cx="496.80" cy="495.00" r="11.80" stroke="#111" stroke-width="1.6" fill="#fff"/>
<line x1="561.00" y1="127.20" x2="691.50" y2="127.20" stroke="#111" stroke-width="1"/>
<line x1="597.30" y1="67.00" x2="597.30" y2="86.00" stroke="#111" stroke-width="1"/>
<line x1="597.30" y1="108.00" x2="597.30" y2="127.20" stroke="#111" stroke-width="1"/>
<path d="M597.30,67.30 L599.10,77.80 L595.50,77.80 Z" fill="#111"/>
<path d="M597.30,127.20 L595.50,116.70 L599.10,116.70 Z" fill="#111"/>
<text transform="matrix(0.0000,-0.1526,0.1606,0.0000,603.2894,109.9708)" font-size="100" fill="#555" opacity="0.995">102</text>
<path d="M672.4,54.4 C690,54.4 702,64 703,79.4" stroke="#333" stroke-width="1.1" fill="none"/>
<path d="M672.4,67.3 C683,67.3 689,74 690.6,81.5" stroke="#333" stroke-width="1.1" fill="none"/>
<line x1="672.40" y1="54.40" x2="672.40" y2="67.30" stroke="#666" stroke-width="1"/>
<path d="M691.1,81.5 L703,79.2 L706,97 L693.5,99 Z" stroke="#333" stroke-width="1" fill="#fff"/>
<line x1="693.30" y1="98.60" x2="706.00" y2="96.40" stroke="#000" stroke-width="2"/>
<path d="M693.5,99 L706,97 L707,105 L694.8,107 Z" stroke="#333" stroke-width="1" fill="#fff"/>
<path d="M693.2,108.5 L710.2,107 L712.8,122.8 L695,124.5 Z" stroke="#333" stroke-width="1" fill="#fff"/>
<path d="M630.4,139.4 L779.7,114.1 L787,158.2 M630.4,139.4 L637.6,184.1" stroke="#333" stroke-width="1.1" fill="none"/>
<path d="M630.4,139.6 L638,134.6 L766.2,112.4 L779.7,114.1" stroke="#333" stroke-width="1" fill="none"/>
<line x1="630.40" y1="139.80" x2="779.70" y2="114.50" stroke="#000" stroke-width="2"/>
<line x1="640" y1="139.5" x2="776" y2="116.5" stroke="#222" stroke-width="1.3" stroke-dasharray="2.2 1.6"/>
<line x1="643.00" y1="182.00" x2="679.00" y2="176.00" stroke="#111" stroke-width="1"/>
<line x1="745.50" y1="164.80" x2="784.70" y2="158.50" stroke="#111" stroke-width="1"/>
<path d="M643.00,182.00 L653.07,178.51 L653.65,182.07 Z" fill="#111"/>
<path d="M784.70,158.50 L774.63,161.99 L774.05,158.43 Z" fill="#111"/>
<text transform="matrix(0.1221,0.0000,0.0000,0.1640,697.1616,176.6580)" font-size="100" fill="#555" opacity="0.995">Ø</text>
<text transform="matrix(0.1469,0.0000,0.0000,0.1662,707.1099,176.5838)" font-size="100" fill="#555" opacity="0.995">250</text>
<line x1="568.20" y1="127.20" x2="568.20" y2="453.50" stroke="#111" stroke-width="1"/>
<line x1="568.20" y1="544.60" x2="568.20" y2="757.40" stroke="#111" stroke-width="1"/>
<path d="M568.20,127.20 L570.00,137.70 L566.40,137.70 Z" fill="#111"/>
<path d="M568.20,757.40 L566.40,746.90 L570.00,746.90 Z" fill="#111"/>
<text transform="matrix(0.0000,-0.1505,0.1662,0.0000,573.3838,537.7027)" font-size="100" fill="#555" opacity="0.995">731 - 1055</text>
<rect x="451.30" y="739.20" width="11.40" height="37.30" stroke="#222" stroke-width="1.2" fill="#fff"/>
<rect x="442.40" y="758.40" width="8.90" height="12.90" stroke="#000" stroke-width="0" fill="#000"/>
<rect x="462.70" y="749.60" width="9.80" height="16.50" stroke="#111" stroke-width="1.5" fill="#fff"/>
<line x1="462.70" y1="757.80" x2="472.50" y2="757.80" stroke="#000" stroke-width="1.6"/>
<rect x="472.50" y="751.50" width="5.20" height="12.50" stroke="#666" stroke-width="1" fill="#fff"/>
<path d="M477.7,750 L486.5,750 Q483,757.8 486.5,765.5 L477.7,765.5 Z" stroke="#777" stroke-width="1" fill="#fff"/>
<rect x="488.00" y="732.00" width="17.70" height="12.40" stroke="#333" stroke-width="1.1" fill="#fff"/>
<line x1="488.00" y1="744.00" x2="505.70" y2="744.00" stroke="#000" stroke-width="2"/>
<path d="M489.6,770.8 L489.6,784.3 L491.5,789 L503,789 L504.7,784.3 L504.7,770.8" stroke="#333" stroke-width="1.1" fill="#fff"/>
<line x1="489.60" y1="771.00" x2="504.70" y2="771.00" stroke="#000" stroke-width="2"/>
<circle cx="497.40" cy="757.80" r="12.40" stroke="#111" stroke-width="1.9" fill="#fff"/>
<circle cx="497.40" cy="757.80" r="10.80" stroke="#555" stroke-width="0.8" fill="none"/>
<circle cx="497.40" cy="757.80" r="5.40" stroke="#111" stroke-width="1.2" fill="none"/>
<line x1="497.40" y1="757.80" x2="497.40" y2="765.60" stroke="#111" stroke-width="1.1"/>
<line x1="384.60" y1="757.80" x2="580.70" y2="757.80" stroke="#111" stroke-width="1"/>
<path d="M505.60,706.00 C506.00,710.00 506.80,722.42 508.00,730.00 C509.20,737.58 510.63,744.50 512.80,751.50 C514.97,758.50 518.08,765.15 521.00,772.00 C523.92,778.85 527.22,785.77 530.30,792.60 C533.38,799.43 537.22,806.17 539.50,813.00 C541.78,819.83 543.75,827.43 544.00,833.60 C544.25,839.77 543.33,846.02 541.00,850.00 C538.67,853.98 534.02,855.97 530.00,857.50 C525.98,859.03 521.40,859.62 516.90,859.20 C512.40,858.78 506.65,857.37 503.00,855.00 C499.35,852.63 496.72,849.17 495.00,845.00 C493.28,840.83 493.08,839.42 492.70,830.00 C492.32,820.58 492.70,795.42 492.70,788.50" stroke="#333" stroke-width="1" fill="none"/>
<path d="M505.60,724.00 C506.08,728.67 507.10,743.50 508.50,752.00 C509.90,760.50 511.75,768.23 514.00,775.00 C516.25,781.77 519.12,786.27 522.00,792.60 C524.88,798.93 529.07,806.17 531.30,813.00 C533.53,819.83 535.28,828.10 535.40,833.60 C535.52,839.10 533.90,843.27 532.00,846.00 C530.10,848.73 526.83,849.33 524.00,850.00 C521.17,850.67 518.00,850.50 515.00,850.00 C512.00,849.50 508.13,849.50 506.00,847.00 C503.87,844.50 502.83,844.75 502.20,835.00 C501.57,825.25 502.20,796.25 502.20,788.50" stroke="#333" stroke-width="1" fill="none"/>
</svg></body></html>
